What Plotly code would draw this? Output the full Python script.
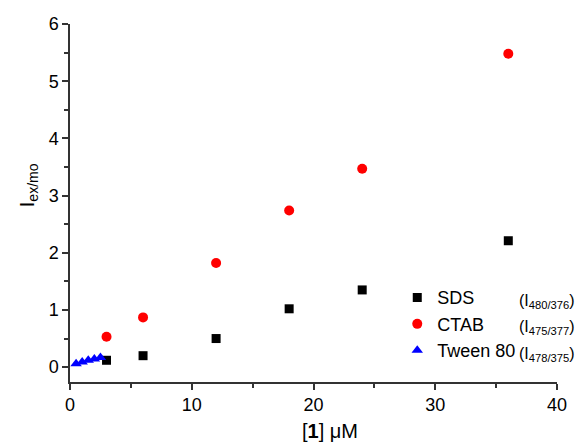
import plotly.graph_objects as go

sds_x = [3, 6, 12, 18, 24, 36]
sds_y = [0.12, 0.20, 0.50, 1.02, 1.35, 2.21]
ctab_x = [3, 6, 12, 18, 24, 36]
ctab_y = [0.53, 0.87, 1.82, 2.74, 3.47, 5.48]
tween_x = [0.5, 1.0, 1.5, 2.0, 2.5]
tween_y = [0.06, 0.09, 0.12, 0.14, 0.17]

names = ["SDS", "CTAB", "Tween 80"]
ratios = ["(I<sub>480/376</sub>)", "(I<sub>475/377</sub>)", "(I<sub>478/375</sub>)"]
x_tick_vals = [0, 10, 20, 30, 40]
y_tick_vals = [0, 1, 2, 3, 4, 5, 6]

FONT = "Liberation Sans, Arial, sans-serif"
AX = "#333"

fig = go.Figure()
fig.add_trace(go.Scatter(x=sds_x, y=sds_y, mode="markers", name=names[0],
                         marker=dict(symbol="square", color="black", size=9)))
fig.add_trace(go.Scatter(x=ctab_x, y=ctab_y, mode="markers", name=names[1],
                         marker=dict(symbol="circle", color="red", size=10)))
fig.add_trace(go.Scatter(x=tween_x, y=tween_y, mode="markers", name=names[2],
                         marker=dict(symbol="triangle-up", color="blue", size=10)))

for i, r in enumerate(ratios):
    fig.add_annotation(xref="paper", yref="paper", x=1.042, y=[0.226, 0.153, 0.078][i],
                       text=r, showarrow=False, xanchor="right", yanchor="middle",
                       font=dict(size=16, color="black", family=FONT))

# axis titles
fig.add_annotation(xref="paper", yref="paper", x=0.534, y=-0.10, text="[<b>1</b>] μM",
                   showarrow=False, xanchor="center", yanchor="top",
                   font=dict(size=20, color="black", family=FONT))
fig.add_annotation(xref="paper", yref="paper", x=-0.086, y=0.55, text="I<sub>ex/mo</sub>",
                   showarrow=False, xanchor="center", yanchor="middle", textangle=-90,
                   font=dict(size=20, color="black", family=FONT))

fig.update_layout(
    width=579, height=446,
    margin=dict(l=70, r=22, t=24, b=64, autoexpand=False),
    plot_bgcolor="white", paper_bgcolor="white",
    font=dict(family=FONT, color="black", size=18),
    showlegend=True,
    legend=dict(x=0.672, y=0.287, xanchor="left", yanchor="top",
                font=dict(size=18, family=FONT), bgcolor="rgba(0,0,0,0)",
                tracegroupgap=0, itemwidth=30),
    xaxis=dict(range=[0, 40], tickvals=x_tick_vals, showgrid=False, zeroline=False,
               showline=True, linecolor=AX, linewidth=1.5, ticks="outside",
               ticklen=6, tickwidth=1.5, tickcolor=AX, automargin=False,
               minor=dict(tickvals=[5, 15, 25, 35], ticks="outside", ticklen=4, tickwidth=1.5, tickcolor=AX),
               tickfont=dict(size=18)),
    yaxis=dict(range=[-0.26, 6], tickvals=y_tick_vals, showgrid=False, zeroline=False,
               showline=True, linecolor=AX, linewidth=1.5, ticks="outside",
               ticklen=6, tickwidth=1.5, tickcolor=AX, automargin=False,
               minor=dict(tickvals=[0.5, 1.5, 2.5, 3.5, 4.5, 5.5], ticks="outside", ticklen=4, tickwidth=1.5, tickcolor=AX),
               tickfont=dict(size=18)),
)

fig.write_html("out.html", config={"displayModeBar": False},
               post_script="document.body.style.margin='0';document.body.style.overflow='hidden';")
